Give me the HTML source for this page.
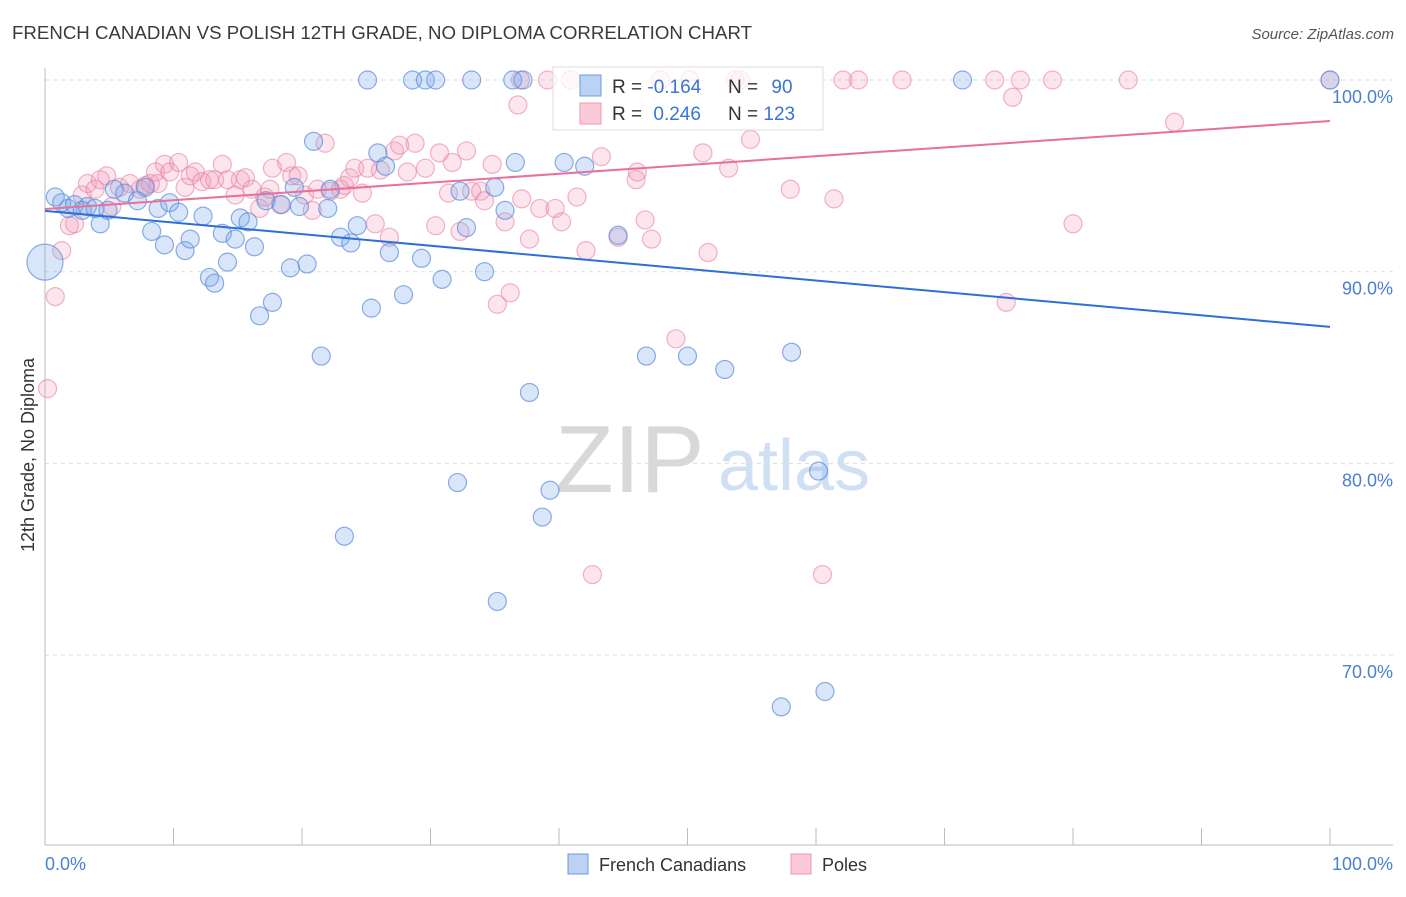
<!DOCTYPE html>
<html><head><meta charset="utf-8"><style>
body{margin:0;background:#fff;font-family:"Liberation Sans",sans-serif;}
svg text{font-family:"Liberation Sans",sans-serif;}
</style></head><body>
<svg id="chart" width="1406" height="892" viewBox="0 0 1406 892" xmlns="http://www.w3.org/2000/svg">
<text x="12" y="39" font-size="18" fill="#3a3a3a" textLength="740" lengthAdjust="spacingAndGlyphs">FRENCH CANADIAN VS POLISH 12TH GRADE, NO DIPLOMA CORRELATION CHART</text>
<text x="1394" y="39" font-size="15" fill="#555" font-style="italic" text-anchor="end">Source: ZipAtlas.com</text>
<g>
<text x="555" y="492" font-size="96" fill="#d8d8d8" font-family="Liberation Serif">ZIP</text>
<text x="718" y="490" font-size="72" fill="#cfe0f5">atlas</text>
</g>
<g id="grid"></g>
<g id="axes"></g>
<g id="points"></g>
<g id="trends"></g>
<text transform="translate(34,455) rotate(-90)" font-size="18" fill="#333" text-anchor="middle">12th Grade, No Diploma</text>
<g>
<rect x="553" y="67" width="270" height="63" fill="rgba(255,255,255,0.75)" stroke="#ddd"/>
<rect x="580" y="75" width="21" height="21" fill="rgba(120,165,235,0.5)" stroke="#6a9be0"/>
<rect x="580" y="103" width="21" height="21" fill="rgba(245,150,180,0.5)" stroke="#ee9ab5"/>
<text x="612" y="93" font-size="19" fill="#333">R = <tspan fill="#3a74d4">-0.164</tspan></text>
<text x="728" y="93" font-size="19" fill="#333">N = <tspan fill="#3a74d4" dx="8">90</tspan></text>
<text x="612" y="120" font-size="19" fill="#333">R = <tspan fill="#3a74d4" dx="6">0.246</tspan></text>
<text x="728" y="120" font-size="19" fill="#333">N = <tspan fill="#3a74d4">123</tspan></text>
</g>
<g>
<rect x="568" y="854" width="20" height="20" fill="rgba(120,165,235,0.5)" stroke="#6a9be0"/>
<text x="599" y="871" font-size="18" fill="#333">French Canadians</text>
<rect x="791" y="854" width="20" height="20" fill="rgba(245,150,180,0.5)" stroke="#ee9ab5"/>
<text x="822" y="871" font-size="18" fill="#333">Poles</text>
</g>
</svg>
<script>
const yTicks=[100,90,80,70];
const yTickLabels=["100.0%","90.0%","80.0%","70.0%"];
const xTicks=[0,10,20,30,40,50,60,70,80,90,100];
const blueX=[0.8,1.3,1.8,2.3,2.9,3.3,3.9,4.3,4.9,5.4,6.2,7.2,7.8,8.3,8.8,9.3,9.7,10.4,10.9,11.3,12.3,12.8,13.2,13.8,14.2,14.8,15.2,15.8,16.3,16.7,17.2,17.7,18.4,19.1,19.4,19.8,20.4,20.9,21.5,22.0,22.2,23.0,23.3,23.8,24.3,25.1,25.4,25.9,26.5,26.8,27.9,28.6,29.3,29.6,30.4,30.9,32.1,32.3,32.8,33.2,34.2,35.0,35.2,35.8,36.4,36.6,37.2,37.7,38.7,39.3,40.4,42.0,44.6,46.8,50.0,52.9,58.1,60.2,60.7,57.3,71.4,100];
const blueY=[93.9,93.6,93.3,93.5,93.2,93.4,93.3,92.5,93.2,94.3,94.1,93.7,94.4,92.1,93.3,91.4,93.6,93.1,91.1,91.7,92.9,89.7,89.4,92.0,90.5,91.7,92.8,92.6,91.3,87.7,93.7,88.4,93.5,90.2,94.4,93.4,90.4,96.8,85.6,93.3,94.3,91.8,76.2,91.5,92.4,100,88.1,96.2,95.5,91.0,88.8,100,90.7,100,100,89.6,79.0,94.2,92.3,100,90.0,94.4,72.8,93.2,100,95.7,100,83.7,77.2,78.6,95.7,95.5,91.9,85.6,85.6,84.9,85.8,79.6,68.1,67.3,100,100];
const pinkX=[0.2,0.8,1.3,1.9,2.3,2.9,3.3,3.9,4.3,4.8,5.2,5.8,6.6,7.4,7.8,8.2,8.6,8.8,9.3,9.7,10.4,10.9,11.3,11.7,12.2,12.8,13.2,13.8,14.2,14.8,15.2,15.6,16.1,16.7,17.1,17.5,17.7,18.3,18.8,19.2,19.7,20.2,20.8,21.2,21.8,22.2,23.0,23.3,23.7,24.1,24.7,25.1,25.7,26.1,26.8,27.2,27.6,28.2,28.8,29.6,30.4,30.7,31.4,31.7,32.3,32.8,33.2,33.9,34.2,34.8,35.2,35.8,36.2,36.8,37.1,37.7,38.5,39.1,39.7,40.2,40.9,41.4,42.1,42.6,43.3,44.6,46.0,46.1,46.7,47.2,47.9,49.1,51.2,51.6,53.2,54.1,54.9,58.0,60.5,61.4,62.1,63.3,66.7,73.9,75.3,75.9,78.4,74.8,80.0,84.3,87.9,100,50.2,53.7,37.0];
const pinkY=[83.9,88.7,91.1,92.4,92.5,94.0,94.6,94.3,94.8,95.0,93.4,94.4,94.6,94.3,94.5,94.6,95.2,94.6,95.6,95.2,95.7,94.4,95.0,95.2,94.7,94.8,94.8,95.6,94.8,94.0,94.8,94.9,94.3,93.3,93.9,94.3,95.4,93.5,95.7,95.0,95.0,94.0,93.2,94.3,96.7,94.2,94.3,94.5,94.9,95.4,94.1,95.4,92.5,95.3,91.8,96.3,96.6,95.2,96.7,95.4,92.4,96.2,94.1,95.7,92.1,96.3,94.2,94.2,93.7,95.6,88.3,92.6,88.9,98.7,93.8,91.7,93.3,100,93.3,92.6,100,93.9,91.1,74.2,96.0,91.8,94.8,95.2,92.7,91.7,100,86.5,96.2,91.0,95.4,100,96.9,94.3,74.2,93.8,100,100,100,100,99.1,100,100,88.4,92.5,100,97.8,100,100,100,100];
const blueTrend=[93.17,87.12];
const pinkTrend=[93.27,97.86];
const X0=45,X1=1330,Y100=80,PXPER=19.17;
const sx=v=>X0+(X1-X0)*v/100;
const sy=v=>Y100+(100-v)*PXPER;
const NS="http://www.w3.org/2000/svg";
function mk(tag,attrs,parent){const e=document.createElementNS(NS,tag);for(const k in attrs)e.setAttribute(k,attrs[k]);parent.appendChild(e);return e;}
const grid=document.getElementById('grid'),axes=document.getElementById('axes'),pts=document.getElementById('points'),tr=document.getElementById('trends');
yTicks.forEach((t,i)=>{
 const l=mk('line',{x1:45,x2:1393,y1:sy(t),y2:sy(t),stroke:'#ddd','stroke-dasharray':'4,4'},grid);
 
 
 const tx=mk('text',{x:1393,y:sy(t)+23,'font-size':18,fill:'#4a7fd4','text-anchor':'end'},axes);
 tx.textContent=yTickLabels[i];
 
 
});
const ax=mk('line',{x1:45,x2:45,y1:68,y2:845,stroke:'#bbb'},axes);


const bx=mk('line',{x1:45,x2:1393,y1:845,y2:845,stroke:'#bbb'},axes);


xTicks.forEach(t=>{
 const l=mk('line',{x1:sx(t),x2:sx(t),y1:828,y2:845,stroke:'#bbb'},axes);
 
 
});
const xl=mk('text',{x:45,y:870,'font-size':18,fill:'#4a7fd4'},axes);xl.textContent='0.0%';


const xr=mk('text',{x:1393,y:870,'font-size':18,fill:'#4a7fd4','text-anchor':'end'},axes);xr.textContent='100.0%';


pinkX.forEach((x,i)=>{
 const c=mk('circle',{cx:sx(x),cy:sy(pinkY[i]),r:9,fill:'rgba(245,150,180,0.25)',stroke:'rgba(232,130,165,0.6)','stroke-width':1.2},pts);
 
 
});
blueX.forEach((x,i)=>{
 const c=mk('circle',{cx:sx(x),cy:sy(blueY[i]),r:9,fill:'rgba(120,165,235,0.28)',stroke:'rgba(90,140,220,0.7)','stroke-width':1.2},pts);
 
 
});
{const c=mk('circle',{cx:sx(0),cy:sy(90.5),r:18,fill:'rgba(120,165,235,0.28)',stroke:'rgba(90,140,220,0.7)','stroke-width':1.2},pts);
 
 }
const bl=mk('line',{x1:sx(0),y1:sy(blueTrend[0]),x2:sx(100),y2:sy(blueTrend[1]),stroke:'#2c6fd8','stroke-width':2},tr);


const pl=mk('line',{x1:sx(0),y1:sy(pinkTrend[0]),x2:sx(100),y2:sy(pinkTrend[1]),stroke:'#e8709a','stroke-width':2},tr);


</script>
</body></html>
